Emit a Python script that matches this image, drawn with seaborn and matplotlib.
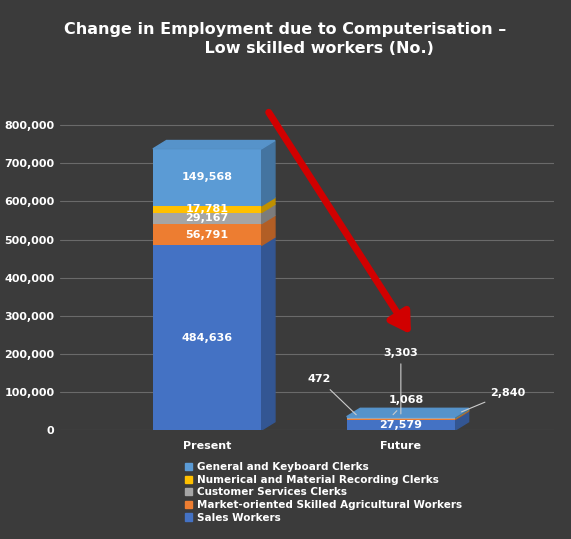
import matplotlib
matplotlib.use("Agg")
import matplotlib.pyplot as plt
from matplotlib.patches import Polygon, Patch
import seaborn as sns
import pandas as pd
import numpy as np

periods = ["Present", "Future"]
series = ["Sales Workers", "Market-oriented Skilled Agricultural Workers",
          "Customer Services Clerks", "Numerical and Material Recording Clerks",
          "General and Keyboard Clerks"]
values = {
    "Sales Workers": [484636, 27579],
    "Market-oriented Skilled Agricultural Workers": [56791, 2840],
    "Customer Services Clerks": [29167, 1068],
    "Numerical and Material Recording Clerks": [17781, 472],
    "General and Keyboard Clerks": [149568, 3303],
}
colors = ["#4472C4", "#ED7D31", "#A5A5A5", "#FFC000", "#5B9BD5"]

sns.set_theme(style="dark")
bg = "#3b3b3b"
fig = plt.figure(figsize=(5.71, 5.39), dpi=100, facecolor=bg)
ax = fig.add_axes([0.105, 0.202, 0.865, 0.601], facecolor=bg)

df = pd.DataFrame(values, index=periods)
cum = df.cumsum(axis=1)
W = 0.56
dx, dy = 0.07, 22000
for s, c in reversed(list(zip(series, colors))):
    sns.barplot(x=periods, y=cum[s].values, color=c, ax=ax, width=W,
                saturation=1, edgecolor="none", zorder=3)

def shade(c, f):
    r = np.array(matplotlib.colors.to_rgb(c))
    return tuple(np.clip(r * f, 0, 1))

for i, p in enumerate(periods):
    bottom = 0
    for s, c in zip(series, colors):
        v = df.loc[p, s]
        x1 = i + W / 2
        ax.add_patch(Polygon([(x1, bottom), (x1 + dx, bottom + dy), (x1 + dx, bottom + v + dy), (x1, bottom + v)],
                             closed=True, color=shade(c, 0.75), zorder=2))
        bottom += v
    x0 = i - W / 2
    ax.add_patch(Polygon([(x0, bottom), (x0 + dx, bottom + dy), (x0 + W + dx, bottom + dy), (x0 + W, bottom)],
                         closed=True, color=shade(colors[-1], 0.95), zorder=4))

bottom = 0
for s in series:
    v = df.loc["Present", s]
    ax.text(0, bottom + v / 2, f"{v:,}", ha="center", va="center", color="white",
            fontsize=8, fontweight="bold", zorder=6)
    bottom += v
fut = df.loc["Future"]
tk = dict(color="white", fontsize=8, fontweight="bold", zorder=6)
ax.text(1, fut["Sales Workers"] / 2, f"{fut['Sales Workers']:,}", ha="center", va="center", **tk)
lp = dict(arrowprops=dict(arrowstyle="-", color="#cccccc", lw=0.8), **tk)
tot = fut.sum()
ax.annotate(f"{fut['General and Keyboard Clerks']:,}", xy=(1.0, tot), xytext=(1.0, 195000), ha="center", **lp)
ax.annotate(f"{fut['Numerical and Material Recording Clerks']:,}", xy=(0.78, tot), xytext=(0.58, 125000), ha="center", **lp)
ax.annotate(f"{fut['Customer Services Clerks']:,}", xy=(0.95, tot), xytext=(1.03, 70000), ha="center", **lp)
ax.annotate(f"{fut['Market-oriented Skilled Agricultural Workers']:,}", xy=(1.3, 45000), xytext=(1.55, 90000), ha="center", **lp)

ax.annotate("", xy=(1.06, 245000), xytext=(0.31, 840000),
            arrowprops=dict(arrowstyle="-|>,head_width=0.6,head_length=1.0", color="#d10000", lw=5), zorder=7)

ax.set_ylim(0, 850000)
ax.set_xlim(-0.76, 1.79)
ax.set_yticks(range(0, 800001, 100000))
ax.set_yticklabels([f"{t:,}" for t in range(0, 800001, 100000)], color="white", fontsize=8, fontweight="bold")
ax.set_xticks([0, 1])
ax.set_xticklabels(periods, color="white", fontsize=8, fontweight="bold")
ax.tick_params(axis="y", length=0, pad=4)
ax.tick_params(axis="x", length=0, pad=8)
ax.grid(axis="y", color="#6a6a6a", lw=0.8, zorder=0)
ax.grid(axis="x", visible=False)
for sp in ax.spines.values():
    sp.set_visible(False)

fig.text(0.5, 0.96, "Change in Employment due to Computerisation –\n            Low skilled workers (No.)",
         ha="center", va="top", color="white", fontsize=11.5, fontweight="bold", linespacing=1.4)

handles = [Patch(color=c, label=s) for s, c in zip(series, colors)][::-1]
fig.legend(handles=handles, loc="upper left", bbox_to_anchor=(0.315, 0.152), frameon=False,
           labelcolor="white", prop=dict(size=7.5, weight="bold"), handlelength=0.7, handleheight=0.7,
           labelspacing=0.25, handletextpad=0.4, borderpad=0)

fig.savefig("out.png", dpi=100, facecolor=bg)
